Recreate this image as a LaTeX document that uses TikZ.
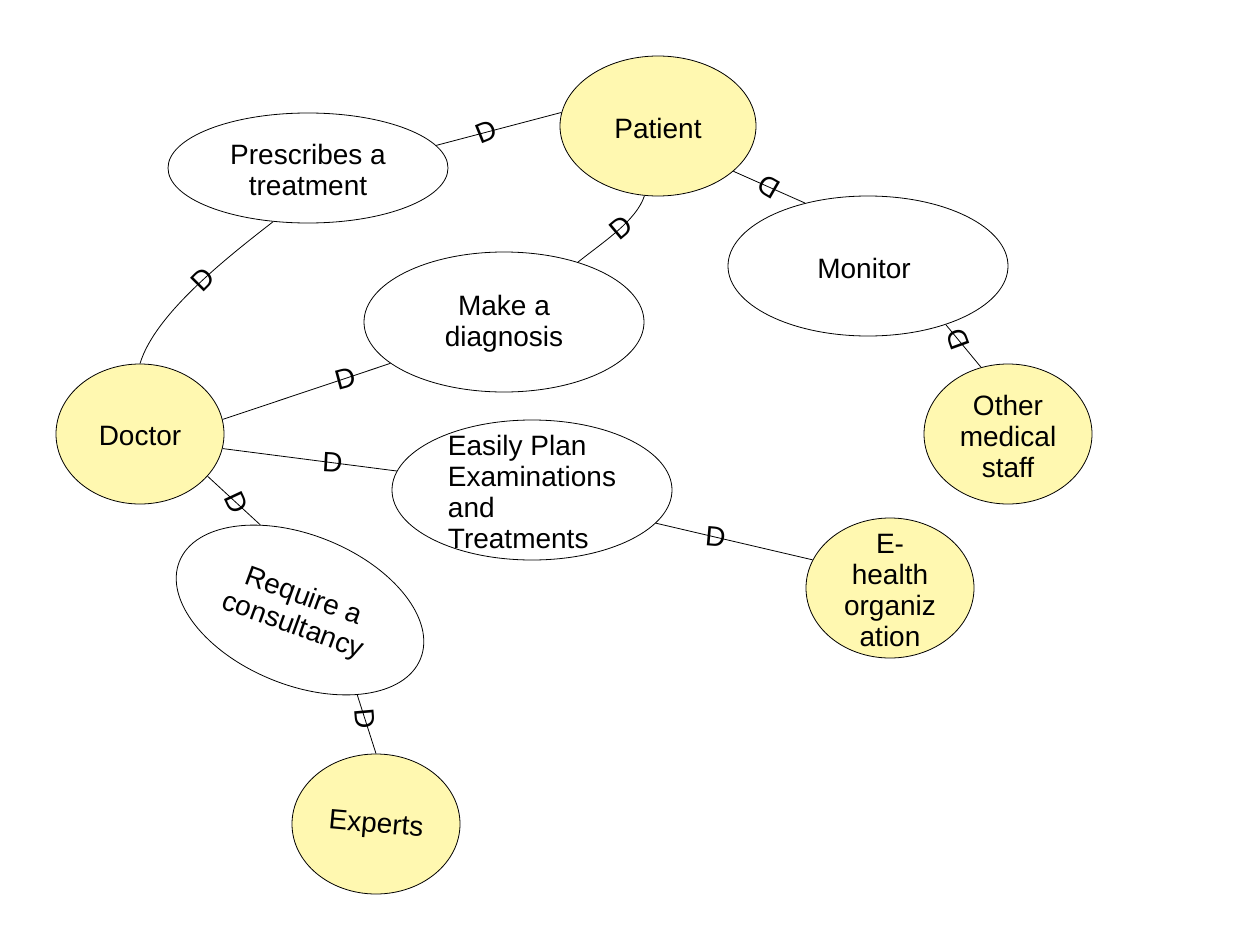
\documentclass[tikz,border=0pt]{standalone}
\usepackage{fontspec}
\setmainfont{Liberation Sans}
\usetikzlibrary{shapes.geometric}
\definecolor{actorfill}{RGB}{255,248,176}
\begin{document}
\begin{tikzpicture}[x=1pt,y=-1pt,
  goal/.style={ellipse, draw=black, line width=0.8pt, fill=white, inner sep=0pt, minimum width=280pt, minimum height=140pt},
  actor/.style={ellipse, draw=black, line width=0.8pt, fill=actorfill, inner sep=0pt, minimum width=168pt, minimum height=140pt},
  txt/.style={font=\fontsize{28}{31}\selectfont, align=center, inner sep=0pt},
  dlab/.style={font=\fontsize{28}{31}\selectfont, inner sep=0pt},
  link/.style={draw=black, line width=0.8pt}]
\useasboundingbox[fill=white] (0,0) rectangle (1235,926);

% nodes
\node[actor, minimum width=196pt] (pat) at (658,126) {};
\node[txt] (patT) at (658,128) {Patient};
\node[goal, minimum height=110pt] (pres) at (308,168) {};
\node[txt] (presT) at (308,170) {Prescribes a\\treatment};
\node[goal] (make) at (504,322) {};
\node[txt] (makeT) at (504,324) {Make a\\diagnosis};
\node[goal] (mon) at (868,266) {};
\node[txt] (monT) at (864,268) {Monitor};
\node[actor] (doc) at (140,434) {};
\node[txt] (docT) at (140,436) {Doctor};
\node[actor] (oth) at (1008,434) {};
\node[txt] (othT) at (1008,436) {Other\\medical\\staff};
\node[goal] (easy) at (532,490) {};
\node[txt, align=left] (easyT) at (532,492) {Easily Plan\\Examinations\\and\\Treatments};
\node[actor] (eh) at (890,588) {};
\node[txt] (ehT) at (890,590) {E-\\health\\organiz\\ation};
\node[goal, rotate=-22, minimum width=260pt, minimum height=150pt] (req) at (300,610) {};
\node[txt, rotate=-20] (reqT) at (298,612) {Require a\\consultancy};
\node[actor] (exp) at (376,824) {};
\node[txt, rotate=-5] (expT) at (376,826) {Experts};

% links
\draw[link] (pres.10) -- node[dlab, pos=0.4, rotate=22] {D} (pat.172);
\draw[link] (mon.135) -- node[dlab, pos=0.5, rotate=150] {D} (pat.-31);
\draw[link] (make.39) .. controls +(25,-20) and +(-8,25) .. node[dlab, pos=0.55, rotate=40] {D} (pat.-101);
\draw[link] (doc.90) .. controls +(15,-50) and +(-45,35) .. node[dlab, pos=0.55, rotate=45] {D} (pres.237);
\draw[link] (doc.10) -- node[dlab, pos=0.73, rotate=15] {D} (make.200);
\draw[link] (doc.-10) -- node[dlab, pos=0.63, rotate=-3] {D} (easy.172.5);
\draw[link] (doc.-32) -- node[dlab, pos=0.55, rotate=-65] {D} (req.137.7);
\draw[link] (req.-34.8) -- node[dlab, pos=0.4, rotate=-85] {D} (exp.90);
\draw[link] (easy.-15) -- node[dlab, pos=0.38, rotate=-5] {D} (eh.160);
\draw[link] (oth.112) -- node[dlab, pos=0.65, rotate=110] {D} (mon.-37.5);
\end{tikzpicture}
\end{document}
